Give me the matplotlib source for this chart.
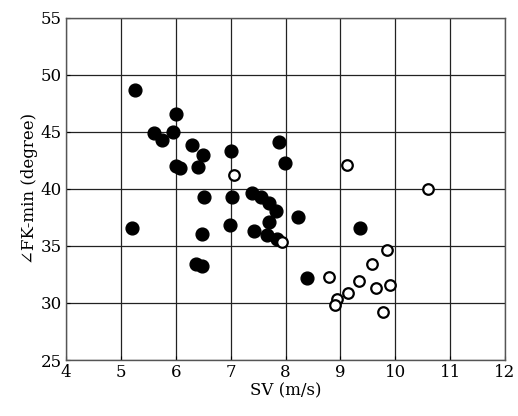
import matplotlib
matplotlib.use('Agg')
import matplotlib.pyplot as plt

plt.rcParams['font.family'] = ['DejaVu Serif', 'DejaVu Sans']

# filled circles
sv_filled = [5.25, 6.0, 5.6, 5.75, 5.95, 6.0, 6.08, 6.29, 6.5, 6.40, 7.0,
             6.52, 7.02, 7.39, 7.55, 7.70, 7.83, 8.23, 7.69, 6.99, 7.42,
             6.48, 7.66, 7.84, 5.21, 6.36, 6.48, 8.40, 7.99, 7.89, 9.36]
fk_filled = [48.7, 46.6, 44.9, 44.3, 45.0, 42.0, 41.8, 43.8, 43.0, 41.9, 43.3,
             39.27, 39.27, 39.66, 39.3, 38.8, 38.1, 37.5, 37.07, 36.8, 36.28,
             36.0, 35.95, 35.6, 36.6, 33.4, 33.2, 32.2, 42.25, 44.08, 36.6]

# open circles
sv_open = [7.07, 7.93, 8.80, 9.12, 10.6, 9.85, 9.58, 9.34, 9.14, 8.93, 8.90,
           9.64, 9.90, 9.78]
fk_open = [41.24, 35.31, 32.3, 42.1, 40.0, 34.6, 33.4, 31.95, 30.9, 30.32,
           29.85, 31.3, 31.6, 29.18]

fig = plt.figure(figsize=(5.18, 4.16), dpi=100)
ax = fig.add_axes([0.1274, 0.1346, 0.8476, 0.823])

ax.plot(sv_filled, fk_filled, 'o', color='black', markersize=9.2, zorder=3)
ax.plot(sv_open, fk_open, 'o', markerfacecolor='white', markeredgecolor='black',
        markersize=7.6, markeredgewidth=1.6, zorder=4)

ax.set_xlim(4, 12)
ax.set_ylim(25, 55)
ax.set_xticks(range(4, 13))
ax.set_yticks(range(25, 56, 5))
ax.grid(True, color='#222222', linewidth=0.9)
ax.set_axisbelow(True)
for s in ax.spines.values():
    s.set_color('#555555')
    s.set_linewidth(1.0)
ax.tick_params(direction='in', length=3, labelsize=12, pad=3)
ax.set_xlabel('SV (m/s)', fontsize=12, labelpad=1)
ax.set_ylabel('∠FK-min (degree)', fontsize=12, labelpad=2)

plt.savefig('out.png', dpi=100)
